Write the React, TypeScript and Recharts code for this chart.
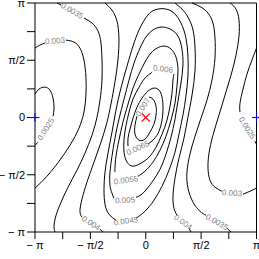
import React from "react";
import { ComposedChart, Line, Scatter, XAxis, YAxis, ReferenceArea } from "recharts";

type Pt = [number, number];

// contour lines, angles in units of pi, split where the level labels sit
const c0070: Pt[][] = [
  [[-0.079, 0.012], [-0.097, -0.067], [-0.097, -0.146], [-0.061, -0.198], [-0.007, -0.189], [0.038, -0.128], [0.074, -0.058], [0.093, 0.021], [0.093, 0.099], [0.065, 0.161], [0.029, 0.178]]
];
const c0065: Pt[][] = [
  [[0.02, -0.233], [0.074, -0.189], [0.12, -0.12], [0.147, -0.023], [0.156, 0.082], [0.147, 0.178], [0.12, 0.239], [0.074, 0.257], [0.02, 0.23], [-0.034, 0.169], [-0.079, 0.09], [-0.115, -0.006], [-0.142, -0.102], [-0.16, -0.18], [-0.16, -0.25]]
];
const c0060: Pt[][] = [
  [[0.255, 0.379], [0.246, 0.327], [0.237, 0.213], [0.219, 0.099], [0.192, -0.023], [0.147, -0.146], [0.093, -0.259], [0.029, -0.347], [-0.043, -0.399], [-0.115, -0.425], [-0.169, -0.39], [-0.196, -0.303], [-0.196, -0.189], [-0.178, -0.067], [-0.151, 0.047], [-0.115, 0.161], [-0.061, 0.265], [-0.007, 0.344], [0.047, 0.388], [0.056, 0.397]]
];
const c0055: Pt[][] = [
  [[-0.07, -0.513], [-0.007, -0.469], [0.065, -0.39], [0.129, -0.285], [0.183, -0.163], [0.228, -0.023], [0.264, 0.125], [0.282, 0.274], [0.291, 0.414], [0.273, 0.528], [0.228, 0.598], [0.165, 0.624], [0.102, 0.606], [0.047, 0.563], [-0.007, 0.484], [-0.061, 0.379], [-0.115, 0.257], [-0.16, 0.117], [-0.206, -0.041], [-0.242, -0.198], [-0.269, -0.338], [-0.278, -0.443], [-0.278, -0.478]]
];
const c0050: Pt[][] = [
  [[-0.088, -0.697], [-0.025, -0.661], [0.056, -0.565], [0.129, -0.452], [0.183, -0.32], [0.228, -0.172], [0.264, -0.015], [0.291, 0.143], [0.318, 0.3], [0.336, 0.458], [0.327, 0.598], [0.291, 0.711], [0.219, 0.773], [0.138, 0.79], [0.065, 0.764], [0.002, 0.703], [-0.052, 0.606], [-0.106, 0.475], [-0.151, 0.327], [-0.196, 0.161], [-0.242, -0.015], [-0.278, -0.18], [-0.305, -0.338], [-0.323, -0.478], [-0.323, -0.592], [-0.305, -0.661], [-0.287, -0.705]]
];
const c0045: Pt[][] = [
  [[-0.088, -0.88], [-0.007, -0.819], [0.074, -0.723], [0.147, -0.6], [0.21, -0.46], [0.264, -0.303], [0.3, -0.146], [0.336, 0.021], [0.363, 0.187], [0.381, 0.362], [0.381, 0.536], [0.363, 0.694], [0.318, 0.825], [0.255, 0.912], [0.183, 0.947], [0.111, 0.947], [0.047, 0.921], [-0.007, 0.86], [-0.061, 0.764], [-0.115, 0.624], [-0.169, 0.449], [-0.224, 0.257], [-0.269, 0.064], [-0.305, -0.128], [-0.341, -0.312], [-0.368, -0.478], [-0.377, -0.626], [-0.368, -0.758], [-0.332, -0.845], [-0.269, -0.897]]
];
const c0040: Pt[][] = [
  [[-0.368, 1], [-0.305, 0.938], [-0.26, 0.842], [-0.242, 0.694], [-0.251, 0.502], [-0.278, 0.309], [-0.314, 0.117], [-0.35, -0.041], [-0.404, -0.216], [-0.467, -0.39], [-0.531, -0.565], [-0.576, -0.714], [-0.594, -0.819], [-0.576, -0.871]],
  [[-0.413, -0.976], [-0.386, -1]],
  [[0.264, 1], [0.327, 0.947], [0.381, 0.877], [0.427, 0.764], [0.445, 0.606], [0.445, 0.414], [0.418, 0.196], [0.381, 0.003], [0.345, -0.18], [0.3, -0.355], [0.264, -0.53], [0.246, -0.688], [0.255, -0.793], [0.282, -0.854]],
  [[0.39, -0.967], [0.409, -1]]
];
const c0035: Pt[][] = [
  [[-0.801, 1], [-0.765, 0.982]],
  [[-0.558, 0.869], [-0.485, 0.825], [-0.431, 0.755], [-0.404, 0.65], [-0.395, 0.502], [-0.395, 0.327], [-0.413, 0.152], [-0.44, 0.003], [-0.485, -0.154], [-0.549, -0.312], [-0.621, -0.46], [-0.702, -0.609], [-0.765, -0.74], [-0.81, -0.854], [-0.828, -0.95], [-0.819, -1]],
  [[0.418, 1], [0.499, 0.964], [0.562, 0.912], [0.607, 0.825], [0.625, 0.694], [0.625, 0.519], [0.598, 0.327], [0.553, 0.152], [0.499, -0.006], [0.445, -0.163], [0.399, -0.32], [0.372, -0.478], [0.381, -0.617], [0.427, -0.74], [0.49, -0.819], [0.544, -0.854]],
  [[0.734, -0.967], [0.77, -1]]
];
const c0030: Pt[][] = [
  [[-1, 0.606], [-0.955, 0.633], [-0.91, 0.65]],
  [[-0.72, 0.676], [-0.648, 0.659], [-0.594, 0.606], [-0.558, 0.502], [-0.54, 0.353], [-0.54, 0.196], [-0.558, 0.047], [-0.603, -0.093], [-0.684, -0.242], [-0.783, -0.382], [-0.892, -0.513], [-1, -0.617]],
  [[0.761, 1], [0.815, 0.947], [0.842, 0.851], [0.842, 0.711], [0.815, 0.545], [0.77, 0.37], [0.716, 0.196], [0.661, 0.021], [0.607, -0.154], [0.571, -0.312], [0.562, -0.443], [0.58, -0.548], [0.625, -0.609], [0.688, -0.644]],
  [[0.878, -0.67], [0.941, -0.644], [1, -0.617]]
];
const c0025: Pt[][] = [
  [[-1, 0.204], [-0.964, 0.248], [-0.91, 0.265], [-0.865, 0.239], [-0.837, 0.169], [-0.828, 0.082], [-0.837, 0.012]],
  [[-0.973, -0.216], [-1, -0.242]],
  [[1, 0.606], [0.959, 0.502], [0.914, 0.379], [0.878, 0.248], [0.851, 0.125], [0.851, 0.047]],
  [[0.986, -0.207], [1, -0.233]]
];

const contourLabels = [
  { text: "0.007", x: -0.025, y: 0.09, angle: -58 },
  { text: "0.0065", x: -0.07, y: -0.268, angle: -25 },
  { text: "0.006", x: 0.156, y: 0.423, angle: 8 },
  { text: "0.0055", x: -0.178, y: -0.548, angle: -8 },
  { text: "0.005", x: -0.187, y: -0.723, angle: -3 },
  { text: "0.0045", x: -0.178, y: -0.906, angle: -8 },
  { text: "0.004", x: -0.494, y: -0.924, angle: 33 },
  { text: "0.004", x: 0.336, y: -0.915, angle: 35 },
  { text: "0.0035", x: -0.666, y: 0.93, angle: 30 },
  { text: "0.0035", x: 0.643, y: -0.915, angle: 30 },
  { text: "0.003", x: -0.819, y: 0.668, angle: -4 },
  { text: "0.003", x: 0.779, y: -0.661, angle: 4 },
  { text: "0.0025", x: -0.901, y: -0.102, angle: -58 },
  { text: "0.0025", x: 0.914, y: -0.093, angle: 58 }
];

const meanPoint = [{ x: 0, y: 0 }];
const antiPoints = [{ x: -1, y: 0 }, { x: 1, y: 0 }];

const piTicks = [-1, -0.75, -0.5, -0.25, 0, 0.25, 0.5, 0.75, 1];
const piLabels: Record<string, string> = {
  "-1": "\u2212 \u03c0",
  "-0.5": "\u2212 \u03c0/2",
  "0": "0",
  "0.5": "\u03c0/2",
  "1": "\u03c0"
};

const fmt = (v: number) => piLabels[String(v)] ?? "";

const FONT = "'Liberation Sans', Arial, sans-serif";

const LabelText = (props: any) => {
  const { cx, cy, payload } = props;
  return (
    <text
      x={cx}
      y={cy}
      transform={`rotate(${payload.angle} ${cx} ${cy})`}
      textAnchor="middle"
      dominantBaseline="central"
      fontSize={8}
      fontFamily={FONT}
      fill="#808080"
    >
      {payload.text}
    </text>
  );
};

const RedCross = ({ cx, cy }: any) => (
  <g stroke="#ff0000" strokeWidth={1.1}>
    <line x1={cx - 4} y1={cy - 4} x2={cx + 4} y2={cy + 4} />
    <line x1={cx - 4} y1={cy + 4} x2={cx + 4} y2={cy - 4} />
  </g>
);

const BluePlus = ({ cx, cy }: any) => (
  <g stroke="#0000ff" strokeWidth={1.1}>
    <line x1={cx - 4.5} y1={cy} x2={cx + 4.5} y2={cy} />
    <line x1={cx} y1={cy - 4.5} x2={cx} y2={cy + 4.5} />
  </g>
);

export default function App() {
  const segments = [c0070, c0065, c0060, c0055, c0050, c0045, c0040, c0035, c0030, c0025].flat();
  return (
    <div style={{ position: "absolute", left: 0, top: 0, width: 259, height: 259, background: "#fff" }}>
      <ComposedChart
        width={259}
        height={259}
        margin={{ top: 3, right: 2.5, bottom: 0, left: 0 }}
        style={{ fontFamily: FONT }}
      >
        <XAxis
          type="number"
          dataKey="x"
          domain={[-1, 1]}
          ticks={piTicks}
          interval={0}
          tickFormatter={fmt}
          tickSize={7}
          tickMargin={2}
          height={27}
          axisLine={false}
          tickLine={{ stroke: "#000" }}
          tick={{ fill: "#000", fontSize: 11 }}
        />
        <YAxis
          type="number"
          dataKey="y"
          domain={[-1, 1]}
          ticks={piTicks}
          interval={0}
          tickFormatter={fmt}
          tickSize={8}
          tickMargin={2}
          width={35}
          axisLine={false}
          tickLine={{ stroke: "#000" }}
          tick={{ fill: "#000", fontSize: 11 }}
        />
        <ReferenceArea x1={-1} x2={1} y1={-1} y2={1} fill="none" fillOpacity={0} stroke="#000" strokeWidth={1} />
        {segments.map((seg, i) => (
          <Line
            key={"c" + i}
            data={seg.map(([x, y]) => ({ x, y }))}
            dataKey="y"
            type="natural"
            stroke="#000"
            strokeWidth={1}
            dot={false}
            activeDot={false}
            isAnimationActive={false}
          />
        ))}
        <Scatter data={contourLabels} shape={LabelText} isAnimationActive={false} />
        <Scatter data={meanPoint} shape={RedCross} isAnimationActive={false} />
        <Scatter data={antiPoints} shape={BluePlus} isAnimationActive={false} />
      </ComposedChart>
    </div>
  );
}
